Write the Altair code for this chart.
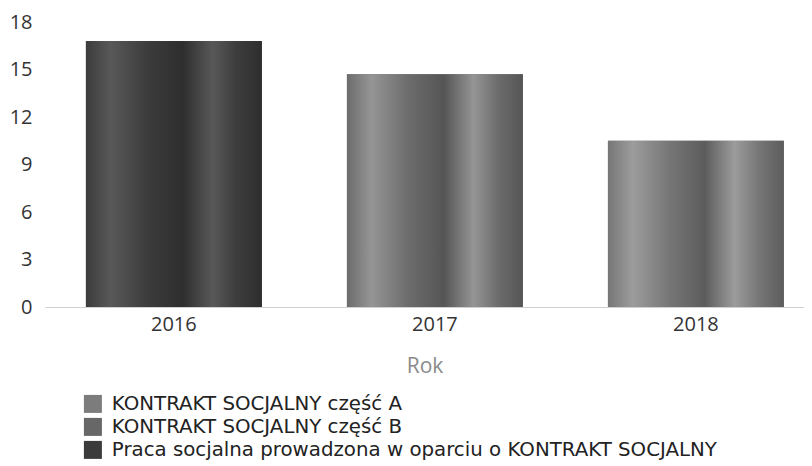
import altair as alt
import pandas as pd

years = ["2016", "2017", "2018"]
values = [16.8, 14.7, 10.5]
series = [
    "Praca socjalna prowadzona w oparciu o KONTRAKT SOCJALNY",
    "KONTRAKT SOCJALNY część B",
    "KONTRAKT SOCJALNY część A",
]
legend_order = [
    "KONTRAKT SOCJALNY część A",
    "KONTRAKT SOCJALNY część B",
    "Praca socjalna prowadzona w oparciu o KONTRAKT SOCJALNY",
]
legend_colors = ["#7c7c7c", "#676767", "#3b3b3b"]
y_ticks = [0, 3, 6, 9, 12, 15, 18]

# cylinder-like shading per bar: (base, highlight, dark)
shades = [
    ("#3c3c3c", "#585858", "#2e2e2e"),
    ("#6c6c6c", "#959595", "#555555"),
    ("#767676", "#9c9c9c", "#5c5c5c"),
]

df = pd.DataFrame({"Rok": years, "value": values, "series": series})

FONT = "Open Sans"

x_enc = alt.X(
    "Rok:N",
    sort=years,
    scale=alt.Scale(paddingInner=0.326, paddingOuter=0.117, align=0.67),
    axis=alt.Axis(
        title="Rok",
        labelAngle=0,
        labelFontSize=20,
        labelColor="#333333",
        labelPadding=7,
        titleFontSize=21,
        titleColor="#8a8a8a",
        titleFontWeight="normal",
        titlePadding=21,
        domainColor="#d0d0d0",
        domainWidth=1,
        ticks=False,
        labelFont=FONT,
        titleFont=FONT,
    ),
)
y_enc = alt.Y(
    "value:Q",
    scale=alt.Scale(domain=[0, 18]),
    axis=alt.Axis(
        title=None,
        values=y_ticks,
        domain=False,
        ticks=False,
        grid=False,
        labelFontSize=20,
        labelColor="#333333",
        labelPadding=13,
        labelFont=FONT,
    ),
)

base = alt.Chart(df).mark_bar().encode(
    x=x_enc,
    y=y_enc,
    color=alt.Color(
        "series:N",
        scale=alt.Scale(domain=legend_order, range=legend_colors),
        legend=alt.Legend(
            title=None,
            orient="none",
            legendX=38,
            legendY=372,
            symbolType="square",
            symbolSize=324,
            symbolStrokeWidth=0,
            labelFontSize=19.8,
            labelColor="#222222",
            labelFont="DejaVu Sans",
            labelLimit=0,
            rowPadding=2,
            symbolOffset=0,
            labelOffset=9,
        ),
    ),
)

layers = [base]
for yr, (b, h, d) in zip(years, shades):
    grad = alt.Gradient(
        gradient="linear",
        x1=0, x2=1, y1=0, y2=0,
        stops=[
            alt.GradientStop(color=b, offset=0.0),
            alt.GradientStop(color=h, offset=0.14),
            alt.GradientStop(color=b, offset=0.35),
            alt.GradientStop(color=d, offset=0.55),
            alt.GradientStop(color=h, offset=0.72),
            alt.GradientStop(color=b, offset=0.86),
            alt.GradientStop(color=d, offset=1.0),
        ],
    )
    layers.append(
        alt.Chart(df)
        .transform_filter(alt.datum.Rok == yr)
        .mark_bar(color=grad)
        .encode(x=alt.X("Rok:N", sort=years), y=alt.Y("value:Q"))
    )

chart = (
    alt.layer(*layers)
    .properties(
        width=759,
        height=285,
        padding={"left": 37, "top": 14, "right": 0, "bottom": 155},
        autosize=alt.AutoSizeParams(type="none"),
        background="white",
    )
    .configure_view(stroke=None)
)

chart.save("out.html", embed_options={"renderer": "svg", "actions": False})
